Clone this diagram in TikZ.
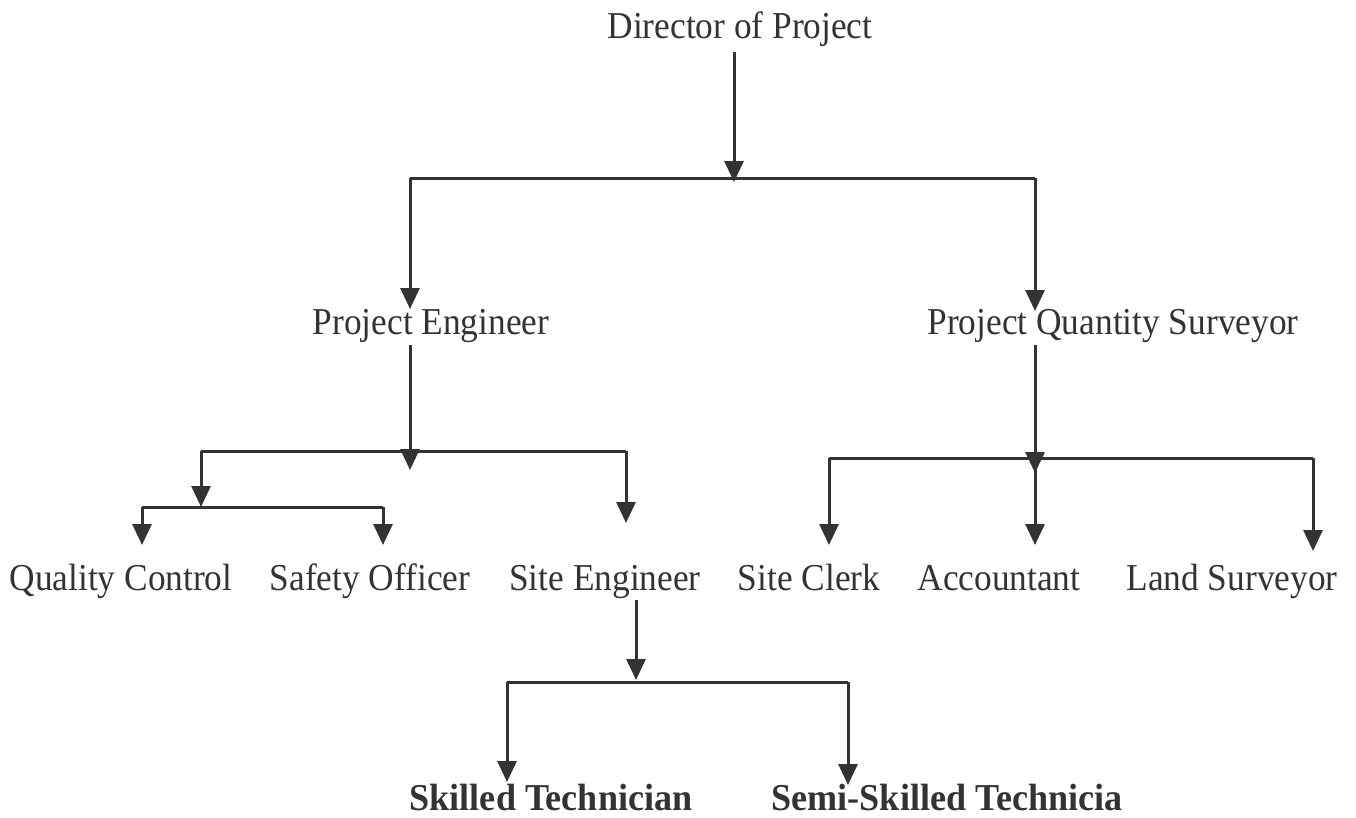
\documentclass[tikz,border=0pt]{standalone}
\usepackage{fontspec}
\setmainfont{Liberation Serif}[FakeStretch=0.93, BoldFeatures={FakeStretch=0.95}]
\usetikzlibrary{arrows.meta}
\definecolor{ink}{HTML}{333333}
\begin{document}
\begin{tikzpicture}[x=1pt,y=-1pt,
  lbl/.style={inner sep=0pt, anchor=base, text=ink, font=\fontsize{38}{40}\selectfont},
  blbl/.style={lbl, font=\fontsize{38}{40}\selectfont\bfseries},
  ln/.style={draw=ink, line width=3pt},
  arr/.style={ln, -{Triangle[width=19pt,length=21pt]}, fill=ink}]
\useasboundingbox[fill=white] (0,0) rectangle (1356,817);

% labels
\node[lbl] (dir) at (740,38) {Director of Project};
\node[lbl] (pe)  at (431,334) {Project Engineer};
\node[lbl] (pqs) at (1113,334) {Project Quantity Surveyor};
\node[lbl] (qc)  at (121,590) {Quality Control};
\node[lbl] (so)  at (370,590) {Safety Officer};
\node[lbl] (se)  at (605,590) {Site Engineer};
\node[lbl] (sc)  at (809,590) {Site Clerk};
\node[lbl] (acc) at (999,590) {Accountant};
\node[lbl] (ls)  at (1232,590) {Land Surveyor};
\node[blbl] (sk) at (551,810) {Skilled Technician};
\node[blbl] (ssk) at (947,810) {Semi-Skilled Technicia};

% junction points
\coordinate (t1) at (734,182);
\coordinate (b1l) at (410,178);
\coordinate (b1r) at (1035,178);
\coordinate (tpe) at (410,309);
\coordinate (tpqs) at (1035,311);

\coordinate (t2) at (410,470);
\coordinate (b2l) at (201,451);
\coordinate (b2r) at (626,451);
\coordinate (t2l) at (201,507);
\coordinate (b3l) at (142,507);
\coordinate (b3r) at (383,507);
\coordinate (tqc) at (142,545);
\coordinate (tso) at (383,545);
\coordinate (tse) at (626,523);

\coordinate (t3) at (1035,473);
\coordinate (b4l) at (829,458);
\coordinate (b4m) at (1035,458);
\coordinate (b4r) at (1313,458);
\coordinate (tsc) at (829,545);
\coordinate (tacc) at (1035,545);
\coordinate (tls) at (1313,551);

\coordinate (t4) at (636,680);
\coordinate (b5l) at (507,682);
\coordinate (b5r) at (848,682);
\coordinate (tsk) at (507,782);
\coordinate (tssk) at (848,785);

% director level
\draw[arr, shorten <=6pt] (dir.south -| t1) -- (t1);
\draw[ln] (b1l) -- (b1r);
\draw[arr] (b1l) -- (tpe);
\draw[arr] (b1r) -- (tpqs);

% project engineer branch
\draw[arr, shorten <=3pt] (pe.south -| t2) -- (t2);
\draw[ln] (b2l) -- (b2r);
\draw[arr] (b2l) -- (t2l);
\draw[ln] (b3l) -- (b3r);
\draw[arr] (b3l) -- (tqc);
\draw[arr] (b3r) -- (tso);
\draw[arr] (b2r) -- (tse);

% quantity surveyor branch
\draw[arr, shorten <=3pt] (pqs.south -| t3) -- (t3);
\draw[ln] (b4l) -- (b4r);
\draw[arr] (b4l) -- (tsc);
\draw[arr] (b4m) -- (tacc);
\draw[arr] (b4r) -- (tls);

% site engineer branch
\draw[arr, shorten <=2pt] (se.south -| t4) -- (t4);
\draw[ln] (b5l) -- (b5r);
\draw[arr] (b5l) -- (tsk);
\draw[arr] (b5r) -- (tssk);
\end{tikzpicture}
\end{document}
